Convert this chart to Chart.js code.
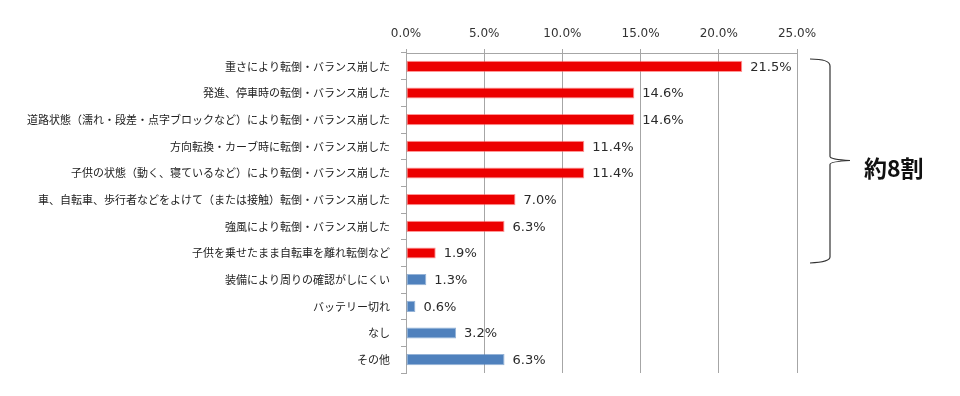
<!DOCTYPE html>
<html>
<head>
<meta charset="utf-8">
<script src="https://cdn.jsdelivr.net/npm/chart.js@4"></script>
<style>
  html, body { margin: 0; padding: 0; background: #fff; }
  #wrap { width: 960px; height: 396px; }
</style>
</head>
<body>
<div id="wrap"><canvas id="barChart" width="960" height="396"></canvas></div>
<script>
const categories = [
  '重さにより転倒・バランス崩した',
  '発進、停車時の転倒・バランス崩した',
  '道路状態（濡れ・段差・点字ブロックなど）により転倒・バランス崩した',
  '方向転換・カーブ時に転倒・バランス崩した',
  '子供の状態（動く、寝ているなど）により転倒・バランス崩した',
  '車、自転車、歩行者などをよけて（または接触）転倒・バランス崩した',
  '強風により転倒・バランス崩した',
  '子供を乗せたまま自転車を離れ転倒など',
  '装備により周りの確認がしにくい',
  'バッテリー切れ',
  'なし',
  'その他'
];
const values = [21.5, 14.6, 14.6, 11.4, 11.4, 7.0, 6.3, 1.9, 1.3, 0.6, 3.2, 6.3];
const groupSize = 8; // first 8 rows = 転倒・バランス系
const barColors = values.map((v, i) => i < groupSize ? '#ec0000' : '#4f81bd');
const xTicks = [0, 5, 10, 15, 20, 25];
const braceText = '約8割';

// value labels at bar ends
const valueLabels = {
  id: 'valueLabels',
  afterDatasetsDraw(chart) {
    const ctx = chart.ctx;
    const meta = chart.getDatasetMeta(0);
    ctx.save();
    ctx.font = '13px "DejaVu Sans"';
    ctx.fillStyle = '#2a2a2a';
    ctx.textAlign = 'left';
    ctx.textBaseline = 'middle';
    meta.data.forEach((bar, i) => {
      ctx.fillText(values[i].toFixed(1) + '%', bar.x + 8, bar.y + 1);
    });
    ctx.restore();
  }
};

// brace + 約8割 on the right
const brace = {
  id: 'brace',
  afterDraw(chart) {
    const ctx = chart.ctx;
    const ys = chart.scales.y;
    const r = chart.chartArea.right;
    const half = (ys.getPixelForValue(1) - ys.getPixelForValue(0)) / 2;
    const top = ys.getPixelForValue(0) - half + 6;
    const bot = ys.getPixelForValue(groupSize - 1) + 9;
    const mid = (top + bot) / 2;
    const x0 = r + 13, x1 = r + 33, x2 = r + 53;
    ctx.save();
    ctx.strokeStyle = '#333';
    ctx.lineWidth = 1.2;
    ctx.beginPath();
    ctx.moveTo(x0, top);
    ctx.quadraticCurveTo(x1, top, x1, top + 7);
    ctx.lineTo(x1, mid - 4);
    ctx.quadraticCurveTo(x1, mid - 1, x2, mid);
    ctx.quadraticCurveTo(x1, mid + 1, x1, mid + 4);
    ctx.lineTo(x1, bot - 5);
    ctx.quadraticCurveTo(x1, bot, x0, bot + 1);
    ctx.stroke();
    ctx.font = 'bold 23px "Noto Sans CJK JP"';
    ctx.fillStyle = '#111';
    ctx.textAlign = 'left';
    ctx.textBaseline = 'middle';
    ctx.fillText(braceText, r + 67, mid + 8);
    ctx.restore();
  }
};

new Chart(document.getElementById('barChart').getContext('2d'), {
  type: 'bar',
  data: {
    labels: categories,
    datasets: [{
      data: values,
      backgroundColor: barColors,
      borderColor: barColors.map(c => c === '#ec0000' ? 'rgba(255,80,80,0.6)' : 'rgba(79,129,189,0.6)'),
      borderWidth: 1,
      borderSkipped: false,
      barPercentage: 0.42,
      categoryPercentage: 1
    }]
  },
  options: {
    indexAxis: 'y',
    responsive: false,
    animation: false,
    layout: { padding: { left: 0, right: 163, top: 0, bottom: 23 } },
    plugins: {
      legend: { display: false },
      tooltip: { enabled: false }
    },
    scales: {
      x: {
        position: 'top',
        min: 0,
        max: 25,
        afterBuildTicks: s => { s.ticks = xTicks.map(v => ({ value: v })); },
        afterFit: s => { s.height = 53; },
        ticks: {
          color: '#333',
          font: { family: 'DejaVu Sans', size: 12 },
          padding: 8,
          maxRotation: 0,
          callback: v => Number(v).toFixed(1) + '%'
        },
        grid: { color: '#a6a6a6', tickLength: 4, lineWidth: 1 },
        border: { color: '#a6a6a6' }
      },
      y: {
        afterFit: s => { s.width = 406; },
        ticks: {
          color: '#222',
          font: { family: 'Noto Sans CJK JP', size: 11 },
          padding: 11,
          autoSkip: false
        },
        grid: { drawOnChartArea: false, offset: true, color: '#a6a6a6', tickLength: 5 },
        border: { color: '#a6a6a6' }
      }
    }
  },
  plugins: [valueLabels, brace]
});
</script>
</body>
</html>
